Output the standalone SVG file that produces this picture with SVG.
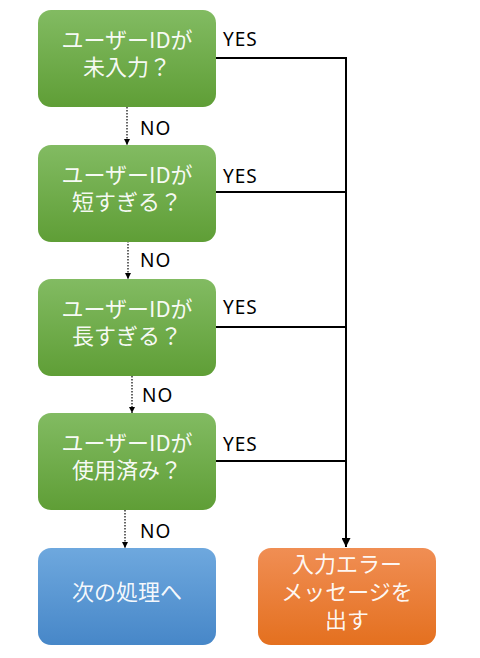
<svg xmlns="http://www.w3.org/2000/svg" width="480" height="658" viewBox="0 0 480 658">
<style>
.box-text{font-family:"Noto Sans CJK JP","Noto Sans",sans-serif;font-size:22px;fill:#ffffff;fill-opacity:0.94;text-anchor:middle}
.lbl{font-family:"Noto Sans","Noto Sans CJK JP",sans-serif;font-size:19px;fill:#000000;letter-spacing:1px}
.dot{stroke:#000;stroke-width:1.2;stroke-dasharray:1.5 1.5;fill:none}
.solid{stroke:#000;stroke-width:2;fill:none}
</style>
<defs>
<linearGradient id="gGreen" x1="0" y1="0" x2="0" y2="1">
<stop offset="0" stop-color="#82bb62"/>
<stop offset="1" stop-color="#5f9e36"/>
</linearGradient>
<linearGradient id="gBlue" x1="0" y1="0" x2="0" y2="1">
<stop offset="0" stop-color="#6ea8de"/>
<stop offset="1" stop-color="#4787c8"/>
</linearGradient>
<linearGradient id="gOrange" x1="0" y1="0" x2="0" y2="1">
<stop offset="0" stop-color="#f08e54"/>
<stop offset="1" stop-color="#e4701f"/>
</linearGradient>
<marker id="arrSmall" viewBox="0 0 6 6" refX="6" refY="3" markerWidth="6" markerHeight="6" markerUnits="userSpaceOnUse" orient="auto">
<path d="M0,0 L6,3 L0,6 z" fill="#000"/>
</marker>
<marker id="arrBig" viewBox="0 0 10 10" refX="10" refY="5" markerWidth="9" markerHeight="9" markerUnits="userSpaceOnUse" orient="auto">
<path d="M0,0 L10,5 L0,10 z" fill="#000"/>
</marker>
</defs>

<g id="connectors">
<line class="dot" x1="127" y1="107" x2="127" y2="145" marker-end="url(#arrSmall)"/>
<line class="dot" x1="128" y1="241" x2="128" y2="279" marker-end="url(#arrSmall)"/>
<line class="dot" x1="132" y1="376" x2="132" y2="413" marker-end="url(#arrSmall)"/>
<line class="dot" x1="125" y1="510" x2="125" y2="548" marker-end="url(#arrSmall)"/>
<text class="lbl" x="140" y="135">NO</text>
<text class="lbl" x="140" y="267">NO</text>
<text class="lbl" x="142" y="402">NO</text>
<text class="lbl" x="140" y="538">NO</text>
<polyline class="solid" points="216,58 346,58 346,547" marker-end="url(#arrBig)"/>
<line class="solid" x1="216" y1="192" x2="346" y2="192"/>
<line class="solid" x1="216" y1="327" x2="346" y2="327"/>
<line class="solid" x1="216" y1="461" x2="346" y2="461"/>
<text class="lbl" x="223" y="46">YES</text>
<text class="lbl" x="223" y="183">YES</text>
<text class="lbl" x="223" y="314">YES</text>
<text class="lbl" x="223" y="451">YES</text>
</g>

<g id="q1">
<rect x="38" y="10" width="178" height="97" rx="13" fill="url(#gGreen)"/>
<text class="box-text" x="127" y="48">ユーザーIDが</text>
<text class="box-text" x="127" y="75">未入力？</text>
</g>
<g id="q2">
<rect x="38" y="145" width="178" height="97" rx="13" fill="url(#gGreen)"/>
<text class="box-text" x="127" y="183">ユーザーIDが</text>
<text class="box-text" x="127" y="210">短すぎる？</text>
</g>
<g id="q3">
<rect x="38" y="279" width="178" height="97" rx="13" fill="url(#gGreen)"/>
<text class="box-text" x="127" y="317">ユーザーIDが</text>
<text class="box-text" x="127" y="344">長すぎる？</text>
</g>
<g id="q4">
<rect x="38" y="413" width="178" height="97" rx="13" fill="url(#gGreen)"/>
<text class="box-text" x="127" y="451">ユーザーIDが</text>
<text class="box-text" x="127" y="478">使用済み？</text>
</g>
<g id="next">
<rect x="38" y="548" width="178" height="97" rx="13" fill="url(#gBlue)"/>
<text class="box-text" x="127" y="600">次の処理へ</text>
</g>
<g id="error">
<rect x="258" y="548" width="178" height="97" rx="13" fill="url(#gOrange)"/>
<text class="box-text" x="347" y="572">入力エラー</text>
<text class="box-text" x="347" y="600">メッセージを</text>
<text class="box-text" x="347" y="628">出す</text>
</g>
</svg>
